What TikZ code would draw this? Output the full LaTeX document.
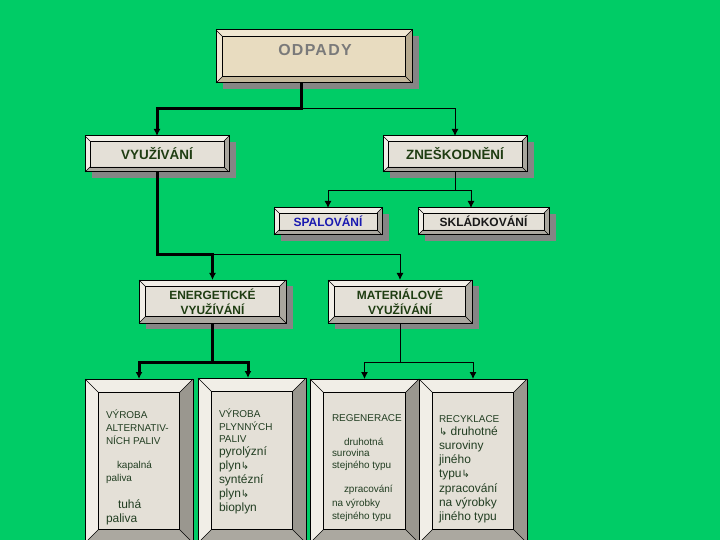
\documentclass[tikz,border=0pt]{standalone}
\usepackage{fontspec}
\setmainfont{Liberation Sans}
\newfontfamily\symfont{DejaVu Sans}
\newfontfamily\widefont[LetterSpace=8]{Liberation Sans}
\usetikzlibrary{arrows.meta,calc,backgrounds}
\definecolor{bgc}{RGB}{0,204,102}
\definecolor{facec}{HTML}{E4E0D7}
\definecolor{lightc}{HTML}{F1EEE7}
\definecolor{rightc}{HTML}{9A978F}
\definecolor{bottomc}{HTML}{ABA8A0}
\definecolor{hrightc}{HTML}{A9A69E}
\definecolor{odface}{HTML}{E8DCC0}
\definecolor{odlight}{HTML}{F0E7D2}
\definecolor{odright}{HTML}{B5A98E}
\definecolor{odbottom}{HTML}{C2B69A}
\definecolor{shadowc}{HTML}{858585}
\definecolor{hgreen}{HTML}{1F3D12}
\definecolor{tgreen}{HTML}{223E22}
\definecolor{odgray}{HTML}{7A7A7A}
\definecolor{spblue}{HTML}{1A1AB0}
\newcommand\fs{\fontsize{10}{12}\selectfont}
\newcommand\fl{\fontsize{12}{14}\selectfont}
\newcommand\hk{{\symfont\fontsize{10}{12}\selectfont ↳}}
\newcommand\bevbox[6]{%
  \coordinate (nw) at (#1.north west);
  \coordinate (ne) at (#1.north east);
  \coordinate (sw) at (#1.south west);
  \coordinate (se) at (#1.south east);
  \fill[#3] (nw) rectangle (se);
  \fill[#4] (nw) -- (ne) -- ($(ne)+(-#2,#2)$) -- ($(nw)+(#2,#2)$) -- cycle;
  \fill[#4] (nw) -- ($(nw)+(#2,#2)$) -- ($(sw)+(#2,-#2)$) -- (sw) -- cycle;
  \fill[#5] (ne) -- (se) -- ($(se)+(-#2,-#2)$) -- ($(ne)+(-#2,#2)$) -- cycle;
  \fill[#6] (sw) -- (se) -- ($(se)+(-#2,-#2)$) -- ($(sw)+(#2,-#2)$) -- cycle;
  \draw[line width=0.6bp] (nw) -- ++(#2,#2) (ne) -- ++(-#2,#2) (sw) -- ++(#2,-#2) (se) -- ++(-#2,-#2);
  \draw[line width=0.6bp] ($(nw)+(#2,#2)$) rectangle ($(se)+(-#2,-#2)$);
  \draw[line width=1bp] (nw) rectangle (se);
}
\newcommand\shadowbox[1]{%
  \fill[shadowc] ($(#1.north west)+(7,6)$) rectangle ($(#1.south east)+(7,6)$);
}
\tikzset{
  box/.style={rectangle, inner sep=0pt, outer sep=0pt, draw=none},
  hbig/.style={box, font=\bfseries\fontsize{13.5}{15}\selectfont, text=hgreen},
  hmid/.style={box, font=\bfseries\fontsize{12}{15}\selectfont, text=hgreen, align=center},
  line/.style={inner sep=0pt, outer sep=0pt, anchor=base west, text=tgreen},
  thk/.style={line width=3bp},
  thn/.style={line width=1bp},
  arr/.style={-{Latex[length=7bp,width=7bp]}}
}
\begin{document}
\begin{tikzpicture}[x=1bp,y=-1bp]
\useasboundingbox (0,0) rectangle (720,540);
% boxes (nodes)
\node[box, minimum width=196bp, minimum height=53bp] (odpady) at (314,56.5) {};
\node[box, text=odgray, font=\widefont\bfseries\fontsize{16}{18}\selectfont] (odpadyt) at (315,50.5) {ODPADY};
\node[hbig, minimum width=144bp, minimum height=36bp] (vyuz) at (157,154) {VYUŽÍVÁNÍ};
\node[hbig, minimum width=144bp, minimum height=36bp] (znes) at (455,154) {ZNEŠKODNĚNÍ};
\node[box, font=\bfseries\fontsize{12}{14}\selectfont, text=spblue, minimum width=108bp, minimum height=27bp] (spal) at (328,221.5) {SPALOVÁNÍ};
\node[box, font=\bfseries\fontsize{12}{14}\selectfont, text=black!90, minimum width=131bp, minimum height=27bp] (sklad) at (483.5,221.5) {SKLÁDKOVÁNÍ};
\node[hmid, minimum width=147bp, minimum height=43bp] (energ) at (212.5,301.5) {ENERGETICKÉ\\VYUŽÍVÁNÍ};
\node[hmid, minimum width=144bp, minimum height=43bp] (mater) at (400,301.5) {MATERIÁLOVÉ\\VYUŽÍVÁNÍ};
\node[box, minimum width=108bp, minimum height=164bp] (boxa) at (139,461) {};
\node[box, minimum width=108bp, minimum height=165bp] (boxb) at (252,460.5) {};
\node[box, minimum width=109bp, minimum height=164bp] (boxc) at (364.5,461) {};
\node[box, minimum width=108bp, minimum height=164bp] (boxd) at (473,461) {};
% texts in the bottom boxes
\foreach \x/\y/\f/\t [count=\i] in {
  106/418/\fs/{VÝROBA}, 106/431/\fs/{ALTERNATIV-}, 106/444/\fs/{NÍCH PALIV},
  117/468/\fs/{kapalná}, 106/481/\fs/{paliva}, 118/508/\fl/{tuhá}, 106/522/\fl/{paliva}}
  \node[line, font=\f] (a\i) at (\x,\y) {\t};
\foreach \x/\y/\f/\t [count=\i] in {
  219/417/\fs/{VÝROBA}, 219/430/\fs/{PLYNNÝCH}, 219/442/\fs/{PALIV},
  219/455/\fl/{pyrolýzní}, 219/469/\fl/{plyn\hk}, 219/483/\fl/{syntézní},
  219/497/\fl/{plyn\hk}, 219/511/\fl/{bioplyn}}
  \node[line, font=\f] (b\i) at (\x,\y) {\t};
\foreach \x/\y/\f/\t [count=\i] in {
  332/421/\fs/{REGENERACE}, 344/445/\fs/{druhotná}, 332/456.5/\fs/{surovina},
  332/468/\fs/{stejného typu}, 344/492/\fs/{zpracování}, 332/506/\fs/{na výrobky},
  332/519/\fs/{stejného typu}}
  \node[line, font=\f] (c\i) at (\x,\y) {\t};
\foreach \x/\y/\f/\t [count=\i] in {
  439/422/\fs/{RECYKLACE}, 439/435/\fl/{\hk\ druhotné}, 439/449.5/\fl/{suroviny},
  439/463/\fl/{jiného}, 439/477/\fl/{typu\hk}, 439/492/\fl/{zpracování},
  439/506/\fl/{na výrobky}, 439/520/\fl/{jiného typu}}
  \node[line, font=\f] (d\i) at (\x,\y) {\t};
% box drawings on background
\begin{scope}[on background layer]
  \clip (0,0) rectangle (720,540);
  \fill[bgc] (0,0) rectangle (720,540);
  \foreach \n in {odpady,vyuz,znes,spal,sklad,energ,mater}{\shadowbox{\n}}
  \bevbox{odpady}{6.5}{odface}{odlight}{odright}{odbottom}
  \foreach \n in {vyuz,znes,spal,sklad}{\bevbox{\n}{5}{facec}{lightc}{hrightc}{bottomc}}
  \foreach \n in {energ,mater}{\bevbox{\n}{6.5}{facec}{lightc}{hrightc}{bottomc}}
  \foreach \n in {boxa,boxb,boxc,boxd}{\bevbox{\n}{13.5}{facec}{lightc}{rightc}{bottomc}}
\end{scope}
% connectors
\draw[thn] ($(odpady.south)+(-13,0)$) coordinate (j1) -- ++(0,26) coordinate (j2);
\draw[thn,arr] (j2) -| (znes.north);
\draw[thk,arr] (j1) -- (j2) -| (vyuz.north);
\draw[thn,arr] (vyuz.south) -- ++(0,82) coordinate (j3) -| (mater.north);
\draw[thk,arr] (vyuz.south) -- (j3) -| (energ.north);
\draw[thn,arr] (znes.south) -- ++(0,19) coordinate (j4) -| (spal.north);
\draw[thn,arr] (j4) -| ($(sklad.north)+(-12.5,0)$);
\draw[thk,arr] (energ.south) -- ++(0,39) coordinate (j5) -| (boxa.north);
\draw[thk,arr] (j5) -| ($(boxb.north)+(-4,0)$);
\draw[thn,arr] (mater.south) -- ++(0,39) coordinate (j6) -| (boxc.north);
\draw[thn,arr] (j6) -| (boxd.north);
\end{tikzpicture}
\end{document}
